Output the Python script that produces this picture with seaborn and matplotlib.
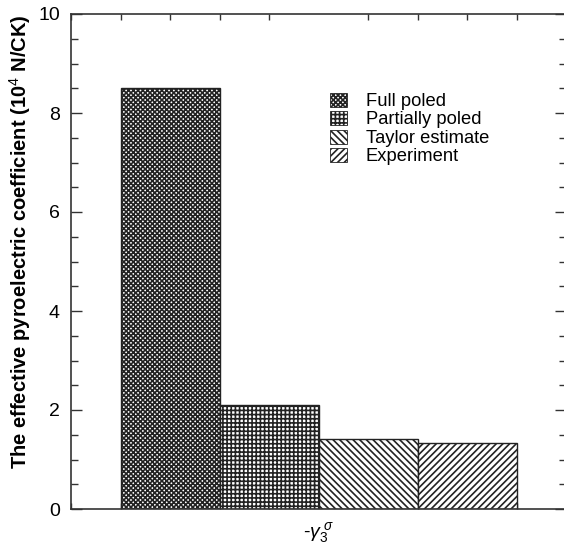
import matplotlib
matplotlib.use("Agg")
import matplotlib.pyplot as plt
import matplotlib.patches as mpatches
from matplotlib.ticker import MultipleLocator
import seaborn as sns
import pandas as pd

categories = ["Full poled", "Partially poled", "Taylor estimate", "Experiment"]
values = [8.5, 2.1, 1.42, 1.34]
hatches = ["xxxxxxx", "++++", "\\\\\\\\\\", "/////"]
xlabel_text = r"-$\gamma_3^{\ \sigma}$"
ylabel_text = r"The effective pyroelectric coefficient (10$^4$ N/CK)"

sns.set_style("ticks")
plt.rcParams["font.family"] = ["Liberation Sans", "DejaVu Sans"]
plt.rcParams["mathtext.fontset"] = "custom"
plt.rcParams["mathtext.rm"] = "Liberation Sans"
plt.rcParams["mathtext.it"] = "Liberation Sans:italic"
plt.rcParams["hatch.linewidth"] = 1.2
plt.rcParams["text.color"] = "black"
plt.rcParams["axes.labelcolor"] = "black"
plt.rcParams["xtick.labelcolor"] = "black"
plt.rcParams["ytick.labelcolor"] = "black"

df = pd.DataFrame({"category": categories, "value": values})

fig = plt.figure(figsize=(5.64, 5.47), dpi=100)
ax = fig.add_axes([71 / 564, 38 / 547, 495 / 564, 495 / 547])

sns.barplot(data=df, x="category", y="value", hue="category",
            palette=["white"] * len(categories), width=1.0,
            edgecolor="#222222", linewidth=1.0, legend=False, ax=ax,
            order=categories, hue_order=categories)

for patch, h in zip(ax.patches, hatches):
    patch.set_hatch(h)

ax.set_xlim(-1, 4)
ax.set_ylim(0, 10)
ax.set_xticks([1.5])
ax.set_xticklabels([xlabel_text], fontsize=14)
ax.xaxis.set_minor_locator(MultipleLocator(0.5))
ax.tick_params(axis="x", which="major", length=0, pad=8)
ax.tick_params(axis="x", which="minor", direction="in", length=4,
               top=True, bottom=True, width=1, color="#333333")
ax.set_xlabel("")

ax.yaxis.set_major_locator(MultipleLocator(2))
ax.yaxis.set_minor_locator(MultipleLocator(0.5))
ax.tick_params(axis="y", which="major", direction="in", length=8, width=1,
               left=True, right=True, labelsize=14, color="#333333", pad=8)
ax.tick_params(axis="y", which="minor", direction="in", length=5, width=1,
               left=True, right=True, color="#333333")
ax.set_ylabel(ylabel_text, fontsize=14.5, fontweight="bold")
ax.yaxis.set_label_coords(-0.076, 0.54)

for s in ax.spines.values():
    s.set_visible(True)
    s.set_linewidth(1.2)
    s.set_color("#333333")
ax.spines["right"].set_visible(False)

handles = [mpatches.Patch(facecolor="white", edgecolor="#222222", hatch=h,
                          linewidth=0.6, label=c)
           for c, h in zip(categories, hatches)]
ax.legend(handles=handles, loc="upper left", bbox_to_anchor=(0.508, 0.856),
          frameon=False, fontsize=13.2, handlelength=0.95, handleheight=0.8,
          handletextpad=1.0, labelspacing=0.06, borderaxespad=0)

fig.savefig("out.png", dpi=100)
